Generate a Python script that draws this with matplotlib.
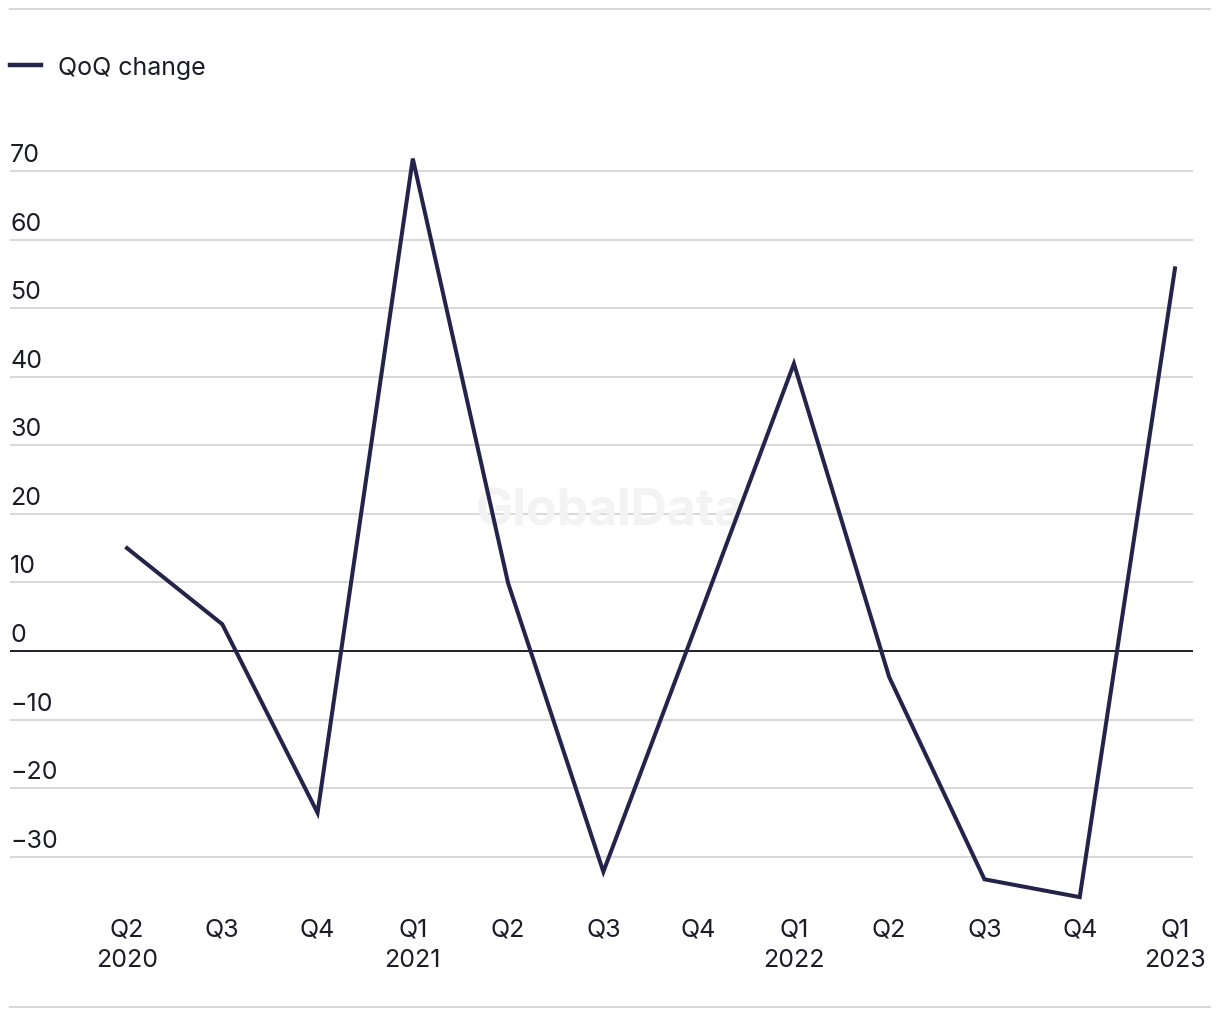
import matplotlib
matplotlib.use("Agg")
import matplotlib.pyplot as plt
import matplotlib.transforms as mtransforms
from matplotlib.lines import Line2D

# ---- data ----
quarters = ["Q2", "Q3", "Q4", "Q1", "Q2", "Q3", "Q4", "Q1", "Q2", "Q3", "Q4", "Q1"]
years = ["2020", "", "", "2021", "", "", "", "2022", "", "", "", "2023"]
qoq_change = [15.0, 3.9, -23.6, 71.8, 9.9, -32.2, 4.7, 41.9, -3.8, -33.3, -35.9, 55.8]
y_ticks = [-30, -20, -10, 0, 10, 20, 30, 40, 50, 60, 70]
series_name = "QoQ change"

LINE_COLOR = "#24244b"
TEXT_COLOR = "#1c1c28"
GRID_COLOR = "#d9d9d9"
FONT = ["Inter", "DejaVu Sans"]
plt.rcParams["font.family"] = FONT

W, H = 1220, 1020
fig = plt.figure(figsize=(W / 100, H / 100), dpi=100)

ax_left, ax_right = 10, 1193
ax_top, ax_bottom = 120, 910
ax = fig.add_axes([ax_left / W, 1 - ax_bottom / H,
                   (ax_right - ax_left) / W, (ax_bottom - ax_top) / H])

x = list(range(len(qoq_change)))
step = (1175 - 127) / (len(x) - 1)
xl = -(127 - ax_left) / step
xr = (len(x) - 1) + (ax_right - 1175) / step
ax.set_xlim(xl, xr)
ax.set_ylim(-37.63, 77.58)

for s in ax.spines.values():
    s.set_visible(False)

ax.set_yticks(y_ticks)
ax.yaxis.grid(True, color=GRID_COLOR, linewidth=1.5)
ax.set_axisbelow(True)
ax.tick_params(axis="y", length=0, labelleft=False)
ax.axhline(0, color="#12121e", linewidth=1.3, zorder=2)

ax.plot(x, qoq_change, color=LINE_COLOR, linewidth=2.9, label=series_name,
        solid_joinstyle="miter", zorder=3)

ax.set_xticks(x)
ax.set_xticklabels([q + ("\n" + y if y else "") for q, y in zip(quarters, years)],
                   fontsize=18, color=TEXT_COLOR, linespacing=1.4, va="top")
ax.tick_params(axis="x", length=0, pad=6)

off = mtransforms.ScaledTranslation(0, 5 / 100, fig.dpi_scale_trans)
for t in y_ticks:
    lab = str(t).replace("-", "\u2212")
    ax.text(0, t, lab, transform=ax.get_yaxis_transform() + off,
            ha="left", va="bottom", fontsize=18, color=TEXT_COLOR)

# watermark (behind the line)
ax.text(610 / W, 1 - 512 / H, "GlobalData", ha="center", va="center",
        transform=fig.transFigure, fontsize=36, fontweight="bold",
        color="#f3f3f3", zorder=1)

# top/bottom rules
fig.add_artist(Line2D([10 / W, 1210 / W], [1 - 10 / H, 1 - 10 / H],
                      color=GRID_COLOR, linewidth=1.5))
fig.add_artist(Line2D([10 / W, 1210 / W], [1 - 1008 / H, 1 - 1008 / H],
                      color=GRID_COLOR, linewidth=1.5))

# legend
leg = fig.legend(loc="upper left", bbox_to_anchor=(10 / W, 1 - 57 / H), frameon=False,
                 fontsize=18, handlelength=1.25, handletextpad=0.65, borderpad=0,
                 borderaxespad=0, labelcolor=TEXT_COLOR)
for h in leg.legend_handles:
    h.set_linewidth(3.2)

fig.savefig("out.png", dpi=100)
